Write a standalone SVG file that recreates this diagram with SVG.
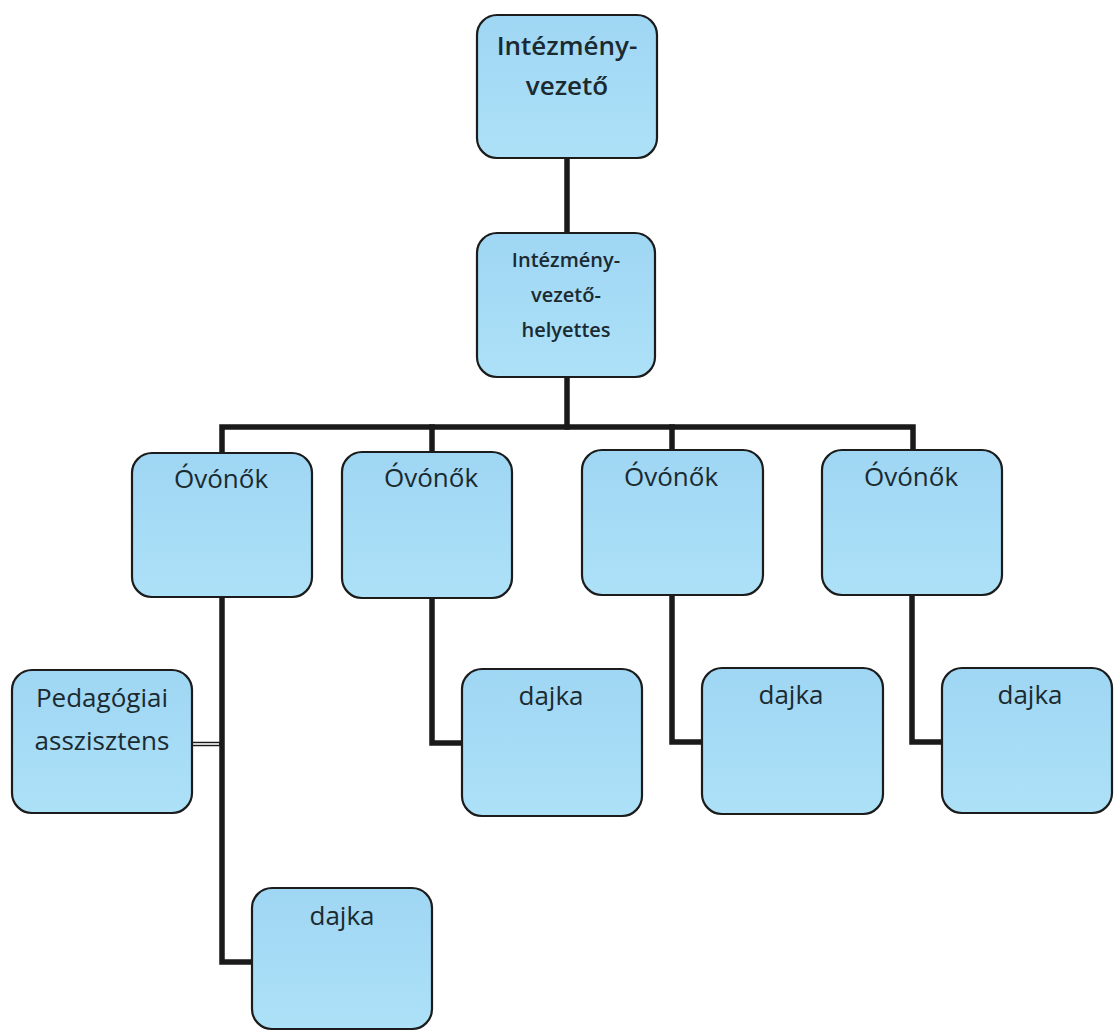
<svg xmlns="http://www.w3.org/2000/svg" width="1114" height="1031" viewBox="0 0 1114 1031">
<defs>
<linearGradient id="fillg" x1="0" y1="0" x2="0" y2="1">
<stop offset="0" stop-color="#9fd6f3"/>
<stop offset="1" stop-color="#ade1f8"/>
</linearGradient>
<style>
.box{fill:url(#fillg);stroke:#1c1c1c;stroke-width:2.2}
.t{font-family:"Open Sans","Liberation Sans",sans-serif;font-size:26px;fill:#1b2a30;text-anchor:middle}
.b{font-weight:600}
.s{font-size:20px}
.c{fill:none;stroke:#1a1a1a;stroke-width:5.5;stroke-linejoin:miter;stroke-linecap:square}
</style>
</defs>
<rect width="1114" height="1031" fill="#ffffff"/>
<g id="connectors">
<path class="c" d="M567 158V233"/>
<path class="c" d="M567 377V427"/>
<path class="c" d="M222 453V427H913V451"/>
<path class="c" d="M432 427V452"/>
<path class="c" d="M672 427V450"/>
<path class="c" d="M222 597V962H252"/>
<path class="c" d="M432 598V743H462"/>
<path class="c" d="M672 595V742H702"/>
<path class="c" d="M912 595V742H942"/>
<path d="M192 744H222" stroke="#1a1a1a" stroke-width="4.5" fill="none"/>
<path d="M192 744H219" stroke="#ffffff" stroke-width="1.6" fill="none"/>
</g>
<g id="n-intezmenyvezeto">
<rect class="box" x="477" y="15" width="180" height="143" rx="20"/>
<text class="t b" x="567" y="55" font-size="25">Intézmény-</text>
<text class="t b" x="567" y="95" font-size="25">vezető</text>
</g>
<g id="n-helyettes">
<rect class="box" x="477" y="233" width="178" height="144" rx="20"/>
<text class="t b s" x="566" y="267" font-size="19.5">Intézmény-</text>
<text class="t b s" x="566" y="302" font-size="19.5">vezető-</text>
<text class="t b s" x="566" y="337" font-size="19.5">helyettes</text>
</g>
<g id="n-ovonok1">
<rect class="box" x="132" y="453" width="180" height="144" rx="20"/>
<text class="t" x="221" y="488">Óvónők</text>
</g>
<g id="n-ovonok2">
<rect class="box" x="342" y="452" width="170" height="146" rx="20"/>
<text class="t" x="431" y="487">Óvónők</text>
</g>
<g id="n-ovonok3">
<rect class="box" x="582" y="450" width="181" height="145" rx="20"/>
<text class="t" x="671" y="486">Óvónők</text>
</g>
<g id="n-ovonok4">
<rect class="box" x="822" y="450" width="180" height="145" rx="20"/>
<text class="t" x="911" y="486">Óvónők</text>
</g>
<g id="n-pedagogiai">
<rect class="box" x="12" y="670" width="180" height="143" rx="20"/>
<text class="t" x="102" y="707" font-size="25.5">Pedagógiai</text>
<text class="t" x="102" y="750" font-size="25.5">asszisztens</text>
</g>
<g id="n-dajka1">
<rect class="box" x="252" y="888" width="180" height="141" rx="20"/>
<text class="t" x="342" y="925">dajka</text>
</g>
<g id="n-dajka2">
<rect class="box" x="462" y="669" width="180" height="147" rx="20"/>
<text class="t" x="551" y="705">dajka</text>
</g>
<g id="n-dajka3">
<rect class="box" x="702" y="668" width="181" height="146" rx="20"/>
<text class="t" x="791" y="704">dajka</text>
</g>
<g id="n-dajka4">
<rect class="box" x="942" y="668" width="170" height="145" rx="20"/>
<text class="t" x="1030" y="704">dajka</text>
</g>
</svg>
